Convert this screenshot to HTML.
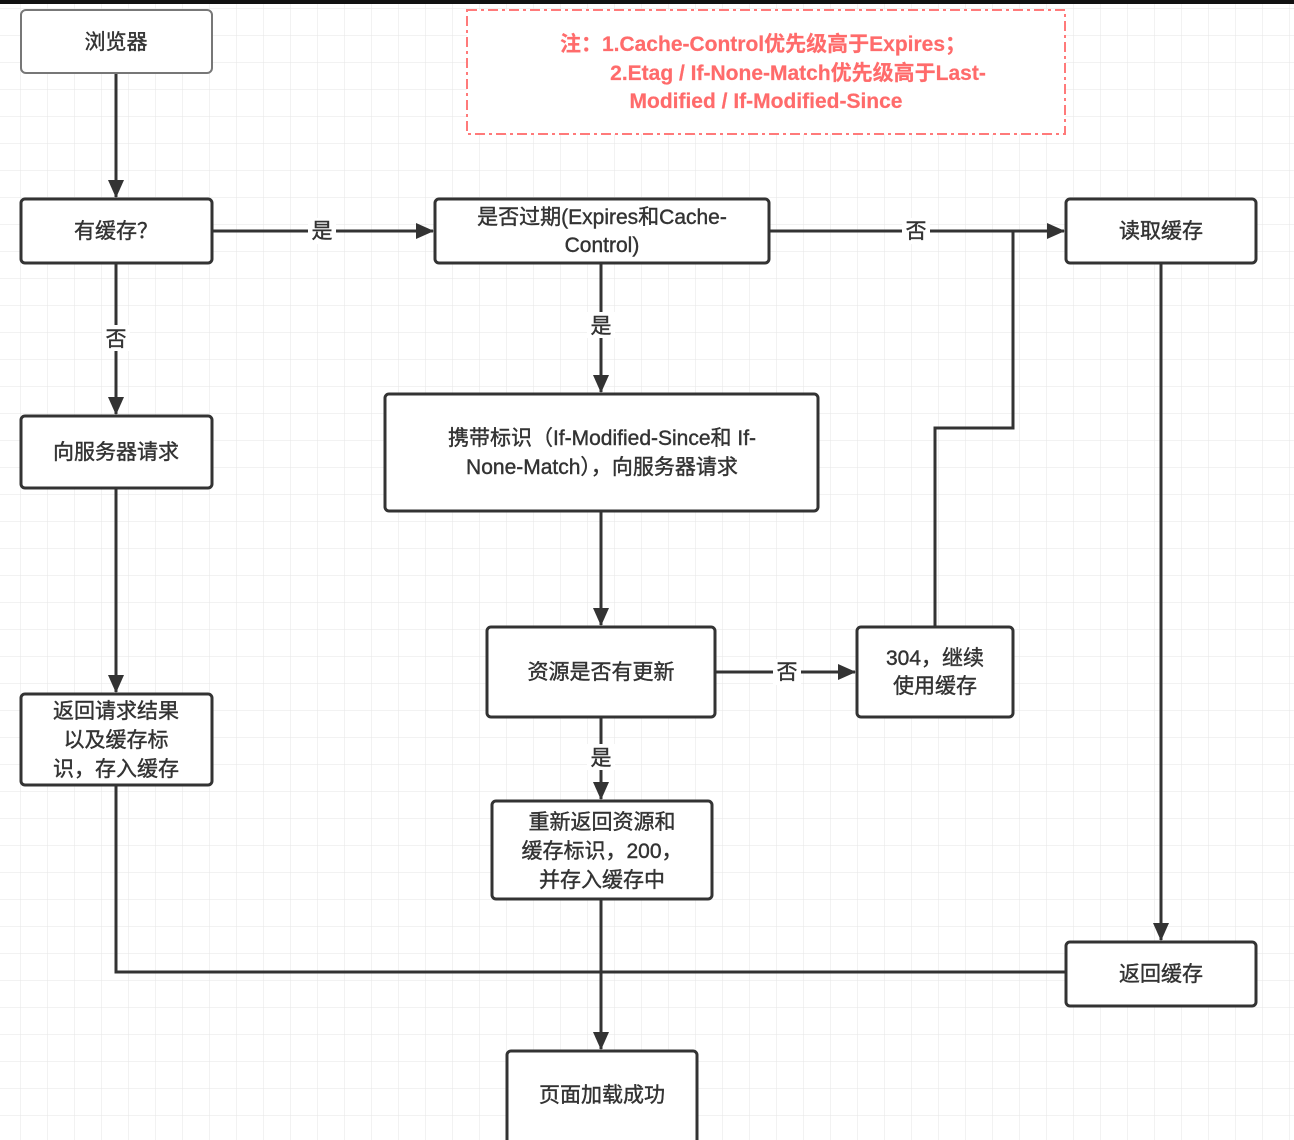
<!DOCTYPE html>
<html><head><meta charset="utf-8"><style>
html,body{margin:0;padding:0;width:1294px;height:1140px;overflow:hidden;background:#fff}
svg{display:block}
text{font-family:"Liberation Sans","Noto Sans CJK SC",sans-serif;font-size:21px;fill:#333;text-anchor:middle;stroke:#333;stroke-width:0.4}
</style></head><body>
<svg width="1294" height="1140" viewBox="0 0 1294 1140">
<defs>
<pattern id="g" width="27" height="27" patternUnits="userSpaceOnUse" x="20" y="8">
<path d="M0 0H27M0 0V27" stroke="#e6e6e6" stroke-width="1" fill="none"/>
</pattern>
<marker id="a" markerWidth="18" markerHeight="16" refX="17" refY="8" orient="auto" markerUnits="userSpaceOnUse">
<path d="M0 0L18 8L0 16Z" fill="#333"/>
</marker>
</defs>
<rect width="1294" height="1140" fill="url(#g)"/>
<rect x="0" y="0" width="1294" height="4" fill="#111"/>
<g stroke="#333" stroke-width="3" fill="none">
<path d="M116 74V197" marker-end="url(#a)"/>
<path d="M212 231H433" marker-end="url(#a)"/>
<path d="M769 231H1064" marker-end="url(#a)"/>
<path d="M935 627V428H1013V231"/>
<path d="M116 263V414" marker-end="url(#a)"/>
<path d="M601 263V392" marker-end="url(#a)"/>
<path d="M601 511V625" marker-end="url(#a)"/>
<path d="M715 672H855" marker-end="url(#a)"/>
<path d="M601 717V799" marker-end="url(#a)"/>
<path d="M116 488V692" marker-end="url(#a)"/>
<path d="M1161 263V940" marker-end="url(#a)"/>
<path d="M116 785V972H1066"/>
<path d="M601 899V1049" marker-end="url(#a)"/>
</g>
<g fill="#fff" stroke="#333" stroke-width="3">
<rect x="21" y="10" width="191" height="63" rx="5" stroke="#777" stroke-width="2"/>
<rect x="21" y="199" width="191" height="64" rx="4"/>
<rect x="435" y="199" width="334" height="64" rx="4"/>
<rect x="1066" y="199" width="190" height="64" rx="4"/>
<rect x="21" y="416" width="191" height="72" rx="4"/>
<rect x="385" y="394" width="433" height="117" rx="4"/>
<rect x="487" y="627" width="228" height="90" rx="4"/>
<rect x="857" y="627" width="156" height="90" rx="4"/>
<rect x="21" y="694" width="191" height="91" rx="4"/>
<rect x="492" y="801" width="220" height="98" rx="4"/>
<rect x="1066" y="942" width="190" height="64" rx="4"/>
<rect x="507" y="1051" width="190" height="100" rx="4"/>
</g>
<rect x="467" y="10" width="598" height="124" fill="#fff" stroke="#ff7a7a" stroke-width="2" stroke-dasharray="10,4,3,4"/>
<text x="763" y="51" style="fill:#ff6b6b;stroke:#ff6b6b;font-weight:bold;stroke-width:0.2">注：1.Cache-Control优先级高于Expires；</text>
<text x="798" y="80" style="fill:#ff6b6b;stroke:#ff6b6b;font-weight:bold;stroke-width:0.2">2.Etag / If-None-Match优先级高于Last-</text>
<text x="766" y="108" style="fill:#ff6b6b;stroke:#ff6b6b;font-weight:bold;stroke-width:0.2">Modified / If-Modified-Since</text>
<g>
<rect x="308" y="218" width="28" height="26" fill="#fff"/><text x="322" y="238">是</text>
<rect x="902" y="218" width="28" height="26" fill="#fff"/><text x="916" y="238">否</text>
<rect x="102" y="325" width="28" height="26" fill="#fff"/><text x="116" y="346">否</text>
<rect x="587" y="312" width="28" height="26" fill="#fff"/><text x="601" y="333">是</text>
<rect x="773" y="659" width="28" height="26" fill="#fff"/><text x="787" y="679">否</text>
<rect x="587" y="744" width="28" height="26" fill="#fff"/><text x="601" y="765">是</text>
</g>
<text x="116" y="49">浏览器</text>
<text x="116" y="238">有缓存？</text>
<text x="602" y="224">是否过期(Expires和Cache-</text>
<text x="602" y="252">Control)</text>
<text x="1161" y="238">读取缓存</text>
<text x="116" y="459">向服务器请求</text>
<text x="602" y="445">携带标识（If-Modified-Since和 If-</text>
<text x="602" y="474">None-Match），向服务器请求</text>
<text x="601" y="679">资源是否有更新</text>
<text x="935" y="665">304，继续</text>
<text x="935" y="693">使用缓存</text>
<text x="116" y="718">返回请求结果</text>
<text x="116" y="747">以及缓存标</text>
<text x="116" y="776">识，存入缓存</text>
<text x="602" y="829">重新返回资源和</text>
<text x="602" y="858">缓存标识，200，</text>
<text x="602" y="887">并存入缓存中</text>
<text x="1161" y="981">返回缓存</text>
<text x="602" y="1102">页面加载成功</text>
</svg>
</body></html>
